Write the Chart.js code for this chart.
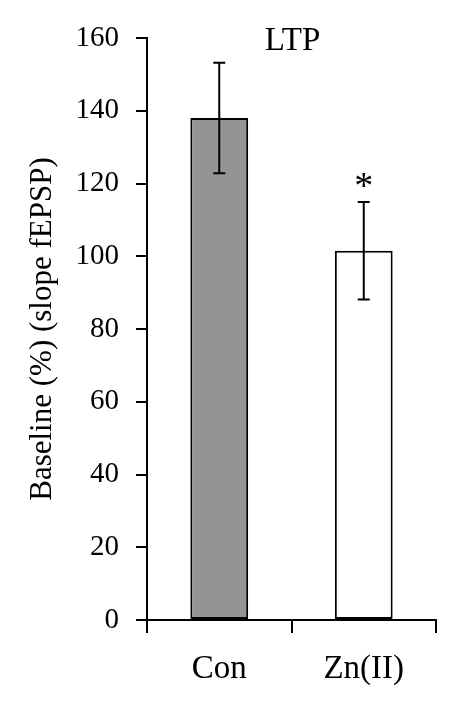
<!DOCTYPE html>
<html>
<head>
<meta charset="utf-8">
<script src="https://cdn.jsdelivr.net/npm/chart.js@4.4.0/dist/chart.umd.min.js"></script>
<style>
  html, body { margin: 0; padding: 0; background: #ffffff; }
</style>
</head>
<body>
<canvas id="myChart" width="458" height="708"></canvas>
<script>
// Données
const categories = ["Con", "Zn(II)"];
const means = [138, 101.5];
const errors = [15.2, 13.4];
const barColors = ["#949494", "#ffffff"];
const marks = ["", "*"];
const yMin = 0;
const yMax = 160;
const yStep = 20;

const FONT = "'Liberation Serif', 'DejaVu Serif', serif";

// Barres d'erreur + astérisque + titre "LTP"
const extrasPlugin = {
  id: "extras",
  afterDatasetsDraw: (chart) => {
    const { ctx, scales, chartArea } = chart;
    const x = scales.x;
    const y = scales.y;
    ctx.save();
    ctx.strokeStyle = "#000";
    ctx.lineWidth = 2;
    means.forEach((m, i) => {
      const px = x.getPixelForValue(i);
      const top = y.getPixelForValue(m + errors[i]);
      const bot = y.getPixelForValue(m - errors[i]);
      ctx.beginPath();
      ctx.moveTo(px, top);
      ctx.lineTo(px, bot);
      ctx.moveTo(px - 6, top);
      ctx.lineTo(px + 6, top);
      ctx.moveTo(px - 6, bot);
      ctx.lineTo(px + 6, bot);
      ctx.stroke();
      if (marks[i]) {
        ctx.fillStyle = "#000";
        ctx.font = "38px " + FONT;
        ctx.textAlign = "center";
        ctx.textBaseline = "alphabetic";
        ctx.fillText(marks[i], px, top - 4);
      }
    });
    ctx.fillStyle = "#000";
    ctx.font = "33px " + FONT;
    ctx.textAlign = "center";
    ctx.textBaseline = "alphabetic";
    ctx.fillText("LTP", (chartArea.left + chartArea.right) / 2 + 1, chartArea.top + 12);
    ctx.restore();
  },
};

const ctx = document.getElementById("myChart").getContext("2d");
const myChart = new Chart(ctx, {
  type: "bar",
  data: {
    labels: categories,
    datasets: [
      {
        data: means,
        backgroundColor: barColors,
        borderColor: "#000",
        borderWidth: 2,
        borderSkipped: false,
        barPercentage: 0.4,
        categoryPercentage: 1,
      },
    ],
  },
  options: {
    responsive: false,
    animation: false,
    layout: {
      padding: { top: 38, right: 22, bottom: 0, left: 0 },
    },
    scales: {
      x: {
        afterFit: (scale) => { scale.height = 88; },
        grid: {
          offset: true,
          drawOnChartArea: false,
          color: "#000",
          lineWidth: 2,
          tickLength: 13,
        },
        border: { color: "#000", width: 2 },
        ticks: {
          color: "#000",
          padding: 17,
          font: { family: FONT, size: 33 },
        },
      },
      y: {
        min: yMin,
        max: yMax,
        afterFit: (scale) => { scale.width = 147; },
        grid: {
          drawOnChartArea: false,
          color: "#000",
          lineWidth: 2,
          tickLength: 11,
        },
        border: { color: "#000", width: 2 },
        ticks: {
          stepSize: yStep,
          color: "#000",
          padding: 17,
          font: { family: FONT, size: 29 },
        },
        title: {
          display: true,
          text: "Baseline (%) (slope fEPSP)",
          color: "#000",
          padding: { top: 24, bottom: 0 },
          font: { family: FONT, size: 31 },
        },
      },
    },
    plugins: {
      legend: { display: false },
      tooltip: { enabled: false },
    },
  },
  plugins: [extrasPlugin],
});
</script>
</body>
</html>
